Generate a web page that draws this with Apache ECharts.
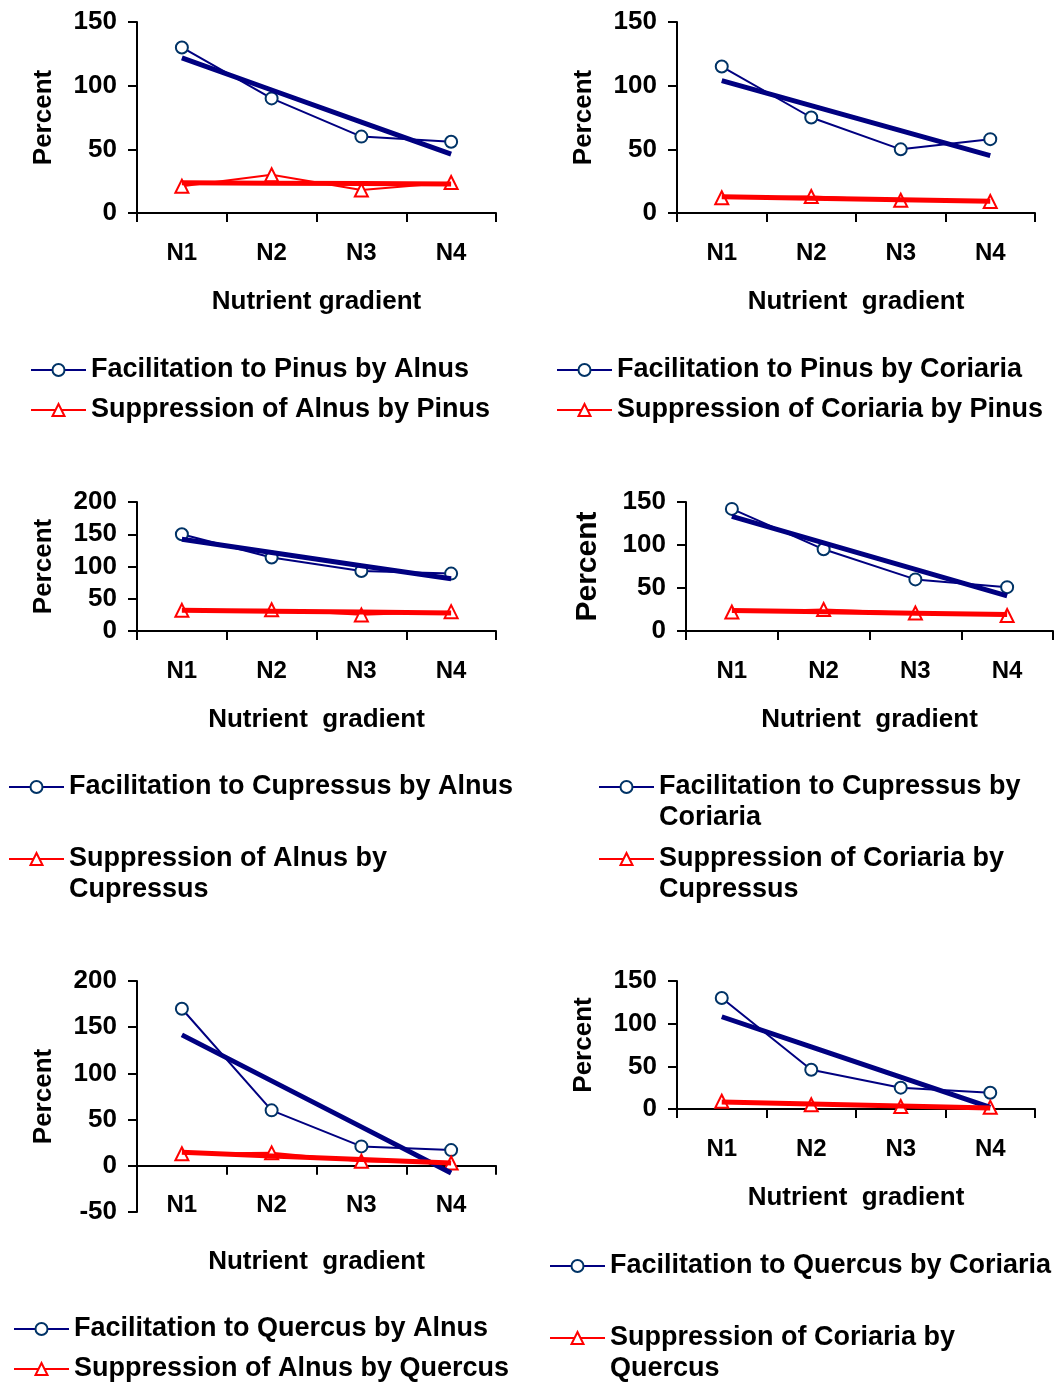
<!DOCTYPE html>
<html>
<head>
<meta charset="utf-8">
<script src="https://cdn.jsdelivr.net/npm/echarts@6/dist/echarts.min.js"></script>
<style>
  html, body { margin: 0; padding: 0; background: #ffffff; }
  #chart { width: 1058px; height: 1383px; }
</style>
</head>
<body>
<div id="chart"></div>
<script>
// Nutrient gradient levels shared by every panel
const categories = ['N1', 'N2', 'N3', 'N4'];

// Percent facilitation (circles) and suppression (triangles) per panel
const pinusAlnusFacilitation = [130, 90, 60, 56];
const pinusAlnusSuppression = [21, 30, 18, 24];
const pinusCoriariaFacilitation = [115, 75, 50, 58];
const pinusCoriariaSuppression = [12, 13, 10, 9];
const cupressusAlnusFacilitation = [150, 114, 93, 89];
const cupressusAlnusSuppression = [32, 33, 25, 30];
const cupressusCoriariaFacilitation = [142, 95, 60, 51];
const cupressusCoriariaSuppression = [22, 25, 21, 18];
const quercusAlnusFacilitation = [170, 60, 21, 17];
const quercusAlnusSuppression = [13, 14, 5, 3];
const quercusCoriariaFacilitation = [130, 46, 25, 19];
const quercusCoriariaSuppression = [9, 5, 3, 2];

// Legend texts (line breaks where the text wraps)
const facilitationNames = [
  'Facilitation to Pinus by Alnus',
  'Facilitation to Pinus by Coriaria',
  'Facilitation to Cupressus by Alnus',
  'Facilitation to Cupressus by\nCoriaria',
  'Facilitation to Quercus by Alnus',
  'Facilitation to Quercus by Coriaria'
];
const suppressionNames = [
  'Suppression of Alnus by Pinus',
  'Suppression of Coriaria by Pinus',
  'Suppression of Alnus by\nCupressus',
  'Suppression of Coriaria by\nCupressus',
  'Suppression of Alnus by Quercus',
  'Suppression of Coriaria by\nQuercus'
];
const xAxisNames = [
  'Nutrient gradient', 'Nutrient  gradient', 'Nutrient  gradient',
  'Nutrient  gradient', 'Nutrient  gradient', 'Nutrient  gradient'
];
const yAxisName = 'Percent';

// Value axis ranges
const yMin = [0, 0, 0, 0, -50, 0];
const yMax = [150, 150, 200, 150, 200, 150];
const yStep = 50;

const facilitationSets = [
  pinusAlnusFacilitation, pinusCoriariaFacilitation, cupressusAlnusFacilitation,
  cupressusCoriariaFacilitation, quercusAlnusFacilitation, quercusCoriariaFacilitation
];
const suppressionSets = [
  pinusAlnusSuppression, pinusCoriariaSuppression, cupressusAlnusSuppression,
  cupressusCoriariaSuppression, quercusAlnusSuppression, quercusCoriariaSuppression
];

// Panel placement (plot rectangles, name gaps, legend anchors)
const layout = [
  { left: 137, top: 22,  width: 359, height: 191, xGap: 76, yGap: 80, yFont: 26,
    legendLeft: 30,  legendTops: [370, 410] },
  { left: 677, top: 22,  width: 358, height: 191, xGap: 76, yGap: 80, yFont: 26,
    legendLeft: 556, legendTops: [370, 410] },
  { left: 137, top: 502, width: 359, height: 129, xGap: 76, yGap: 80, yFont: 26,
    legendLeft: 8,   legendTops: [787, 859] },
  { left: 686, top: 502, width: 367, height: 129, xGap: 76, yGap: 83, yFont: 30,
    legendLeft: 598, legendTops: [787, 859] },
  { left: 137, top: 981, width: 359, height: 231, xGap: 83, yGap: 80, yFont: 26,
    legendLeft: 13,  legendTops: [1329, 1369] },
  { left: 677, top: 981, width: 358, height: 128, xGap: 76, yGap: 80, yFont: 26,
    legendLeft: 549, legendTops: [1266, 1338] }
];

const FONT = "'Liberation Sans', Arial, Helvetica, sans-serif";
const NAVY = '#000080';
const MARKER_BLUE = '#003366';
const RED = '#ff0000';
const LEGEND_LINE = 31;

// Least-squares straight line through the points of one series
function linearTrend(values) {
  const n = values.length;
  const xs = values.map((_, k) => k + 1);
  const mx = xs.reduce((a, b) => a + b, 0) / n;
  const my = values.reduce((a, b) => a + b, 0) / n;
  let sxy = 0, sxx = 0;
  for (let k = 0; k < n; k++) {
    sxy += (xs[k] - mx) * (values[k] - my);
    sxx += (xs[k] - mx) * (xs[k] - mx);
  }
  const slope = sxy / sxx;
  return xs.map(x => +(my + slope * (x - mx)).toFixed(3));
}

const grids = [], xAxes = [], yAxes = [], series = [], legends = [];

// One legend per entry; wrapped entries get an empty leading line so that
// the symbol lines up with the first line of text.
function addLegend(name, left, firstLineCenter) {
  const wrapped = name.indexOf('\n') >= 0;
  const rows = wrapped ? 3 : 1;
  legends.push({
    data: [name],
    orient: 'vertical',
    left: left,
    top: firstLineCenter - (rows * LEGEND_LINE) / 2,
    padding: 0,
    itemWidth: 55,
    itemHeight: 15,
    selectedMode: false,
    formatter: wrapped ? '\n{name}' : '{name}',
    textStyle: {
      fontFamily: FONT, fontWeight: 'bold', fontSize: 27, color: '#000',
      lineHeight: LEGEND_LINE
    }
  });
}

layout.forEach((p, i) => {
  grids.push({
    left: p.left, top: p.top, width: p.width, height: p.height,
    containLabel: false, outerBoundsMode: 'none'
  });

  // The category axis sits on the value 0 line of its panel.
  const zeroShift = -p.height * (0 - yMin[i]) / (yMax[i] - yMin[i]);

  xAxes.push({
    type: 'category', gridIndex: i, data: categories, boundaryGap: true,
    position: 'bottom', offset: zeroShift,
    name: xAxisNames[i], nameLocation: 'middle', nameGap: p.xGap,
    nameMoveOverlap: false,
    nameTextStyle: { fontFamily: FONT, fontWeight: 'bold', fontSize: 26, color: '#000' },
    axisLine: { show: true, onZero: false, lineStyle: { color: '#000', width: 2 } },
    axisTick: { show: true, inside: false, length: 9, alignWithLabel: false,
                lineStyle: { color: '#000', width: 2 } },
    axisLabel: { margin: 28, fontFamily: FONT, fontWeight: 'bold', fontSize: 24, color: '#000' },
    splitLine: { show: false }
  });

  yAxes.push({
    type: 'value', gridIndex: i, min: yMin[i], max: yMax[i], interval: yStep,
    name: yAxisName, nameLocation: 'middle', nameGap: p.yGap, nameRotate: 90,
    nameMoveOverlap: false,
    nameTextStyle: { fontFamily: FONT, fontWeight: 'bold', fontSize: p.yFont, color: '#000' },
    axisLine: { show: true, onZero: false, lineStyle: { color: '#000', width: 2 } },
    axisTick: { show: true, inside: false, length: 9, lineStyle: { color: '#000', width: 2 } },
    axisLabel: { margin: 20, fontFamily: FONT, fontWeight: 'bold', fontSize: 26, color: '#000' },
    splitLine: { show: false }
  });

  const fac = facilitationSets[i];
  const sup = suppressionSets[i];

  series.push({
    name: facilitationNames[i], type: 'line', xAxisIndex: i, yAxisIndex: i,
    data: fac, symbol: 'circle', symbolSize: 12, z: 2,
    lineStyle: { color: NAVY, width: 2 },
    itemStyle: { color: '#ffffff', borderColor: MARKER_BLUE, borderWidth: 2 },
    emphasis: { disabled: true }
  });
  series.push({
    name: suppressionNames[i], type: 'line', xAxisIndex: i, yAxisIndex: i,
    data: sup, symbol: 'triangle', symbolSize: 13, z: 2,
    lineStyle: { color: RED, width: 2 },
    itemStyle: { color: '#ffffff', borderColor: RED, borderWidth: 2 },
    emphasis: { disabled: true }
  });
  series.push({
    name: 'Linear (' + facilitationNames[i] + ')', type: 'line',
    xAxisIndex: i, yAxisIndex: i, data: linearTrend(fac), symbol: 'none', z: 3,
    lineStyle: { color: NAVY, width: 5 }, emphasis: { disabled: true }
  });
  series.push({
    name: 'Linear (' + suppressionNames[i] + ')', type: 'line',
    xAxisIndex: i, yAxisIndex: i, data: linearTrend(sup), symbol: 'none', z: 3,
    lineStyle: { color: RED, width: 5 }, emphasis: { disabled: true }
  });

  addLegend(facilitationNames[i], p.legendLeft, p.legendTops[0]);
  addLegend(suppressionNames[i], p.legendLeft, p.legendTops[1]);
});

const chart = echarts.init(document.getElementById('chart'), null, { renderer: 'canvas' });
chart.setOption({
  animation: false,
  backgroundColor: '#ffffff',
  grid: grids,
  xAxis: xAxes,
  yAxis: yAxes,
  legend: legends,
  series: series
});
</script>
</body>
</html>
